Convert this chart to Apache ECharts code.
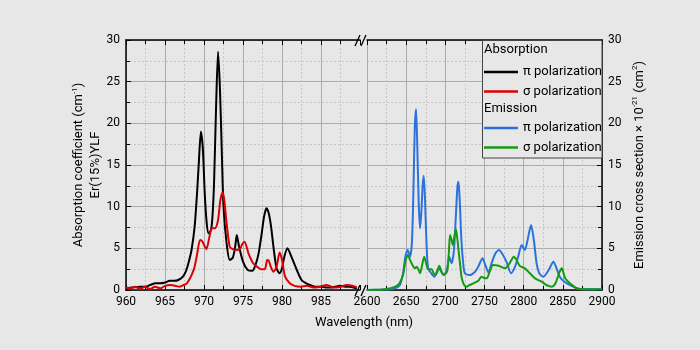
<!DOCTYPE html>
<html>
<head>
<meta charset="utf-8">
<script src="https://cdn.jsdelivr.net/npm/echarts@6/dist/echarts.min.js"></script>
<style>
  html, body { margin: 0; padding: 0; background: #e7e7e7; }
  #chart { width: 700px; height: 350px; }
</style>
</head>
<body>
<div id="chart"></div>
<script>
// ---------- DATA ----------
const absPiWl = [960.0, 960.8, 961.8, 962.5, 963.1, 963.8, 964.4, 965.0, 965.6, 966.2, 966.7, 967.3, 967.7, 968.0, 968.4, 968.8, 969.1, 969.35, 969.6, 969.85, 970.1, 970.35, 970.6, 970.9, 971.1, 971.3, 971.55, 971.8, 972.05, 972.3, 972.5, 972.9, 973.3, 973.7, 974.0, 974.2, 974.5, 975.0, 975.6, 976.2, 976.6, 977.0, 977.4, 977.7, 978.0, 978.3, 978.6, 978.9, 979.3, 979.7, 980.0, 980.3, 980.7, 981.2, 981.9, 982.5, 983.1, 983.6, 984.3, 984.9, 985.6, 986.2, 986.8, 987.4, 988.1, 988.7, 989.6];
const absPiVal = [0.2, 0.3, 0.4, 0.4, 0.6, 0.8, 0.8, 0.9, 1.1, 1.1, 1.2, 1.6, 2.3, 3.2, 4.8, 7.6, 11.5, 15.5, 19.0, 17.0, 11.5, 8.0, 6.8, 7.2, 9.0, 13.2, 22.0, 28.6, 24.0, 16.0, 10.0, 5.6, 3.6, 3.9, 5.2, 6.6, 5.2, 3.4, 2.4, 2.3, 3.0, 4.4, 6.8, 8.8, 9.8, 9.2, 7.6, 5.2, 2.6, 2.0, 2.6, 4.0, 5.0, 4.0, 2.4, 1.2, 0.8, 0.6, 0.4, 0.4, 0.3, 0.3, 0.4, 0.5, 0.4, 0.4, 0.2];

const absSigmaWl = [960.0, 960.5, 961.2, 961.8, 962.4, 963.1, 963.7, 964.4, 965.0, 965.7, 966.3, 966.9, 967.4, 967.8, 968.2, 968.5, 968.8, 969.1, 969.5, 969.8, 970.3, 970.7, 971.0, 971.4, 971.8, 972.1, 972.4, 972.6, 972.9, 973.3, 973.7, 974.1, 974.6, 974.9, 975.2, 975.7, 976.3, 976.8, 977.3, 977.8, 978.1, 978.3, 978.6, 978.9, 979.3, 979.7, 980.0, 980.4, 981.0, 981.6, 982.4, 983.2, 984.0, 984.9, 985.7, 986.6, 987.5, 988.3, 989.0, 989.6];
const absSigmaVal = [0.3, 0.2, 0.4, 0.1, 0.4, 0.1, 0.4, 0.2, 0.5, 0.6, 0.5, 0.4, 0.6, 0.8, 1.4, 2.0, 2.8, 4.2, 6.0, 5.8, 4.9, 6.4, 7.4, 7.4, 8.4, 10.8, 11.7, 10.8, 8.0, 5.2, 4.9, 4.8, 4.9, 5.5, 5.8, 4.4, 3.2, 2.8, 2.5, 2.5, 3.6, 3.5, 2.7, 2.2, 2.8, 4.5, 3.6, 1.6, 0.8, 0.5, 0.4, 0.5, 0.3, 0.4, 0.6, 0.3, 0.4, 0.6, 0.5, 0.3];

const emPiWl = [2600, 2620, 2630, 2638, 2642, 2646, 2649, 2652, 2655, 2657.5, 2659.5, 2661, 2662.6, 2664, 2666, 2667.7, 2669.5, 2671, 2672.4, 2674, 2676, 2678, 2682, 2686, 2689, 2692, 2695, 2698, 2702, 2705, 2708, 2711, 2713.5, 2715.5, 2716.8, 2718.5, 2720.5, 2723, 2725, 2731, 2738, 2742, 2747.5, 2751, 2755, 2759, 2764, 2768.5, 2773, 2778, 2784, 2789, 2793, 2797.5, 2801.5, 2805, 2809.5, 2813, 2816.5, 2820, 2825, 2832, 2838, 2842, 2846, 2852, 2861, 2870, 2880, 2900];
const emPiVal = [0.0, 0.05, 0.1, 0.3, 0.6, 2.0, 4.0, 4.8, 4.0, 6.0, 13.0, 19.5, 21.7, 18.0, 10.5, 7.4, 9.5, 12.5, 13.7, 11.0, 5.5, 2.6, 2.0, 1.6, 2.0, 2.6, 2.2, 1.8, 2.4, 4.0, 3.2, 4.8, 9.0, 12.5, 13.0, 10.5, 6.0, 3.0, 2.0, 1.8, 2.2, 2.8, 3.8, 3.0, 2.1, 3.2, 4.4, 4.8, 4.3, 3.4, 2.0, 2.8, 4.0, 5.4, 4.8, 6.0, 7.8, 6.0, 3.2, 2.0, 1.6, 2.4, 3.4, 2.6, 1.6, 1.0, 0.5, 0.15, 0.1, 0.1];

const emSigmaWl = [2600, 2620, 2630, 2638, 2642, 2646, 2649, 2652, 2655, 2658, 2661, 2663.5, 2665.5, 2667.7, 2670, 2673, 2675.5, 2678, 2682.5, 2685, 2687, 2690, 2692.3, 2695, 2697.5, 2700, 2702.5, 2704.5, 2706, 2708, 2709.5, 2711.5, 2713.6, 2715.5, 2717.5, 2719.5, 2721, 2724, 2727, 2731, 2736, 2742, 2746, 2750.5, 2753, 2757, 2761, 2768, 2776, 2782, 2787.5, 2791, 2795, 2801.5, 2808, 2814.5, 2823, 2829, 2836, 2840, 2843, 2846, 2848.6, 2851, 2853, 2859, 2868, 2880, 2900];
const emSigmaVal = [0.0, 0.05, 0.2, 0.5, 0.9, 1.8, 3.4, 4.2, 3.6, 3.0, 2.6, 2.8, 2.5, 2.0, 2.8, 4.0, 3.2, 2.5, 2.5, 2.0, 1.8, 2.4, 2.9, 2.2, 1.8, 1.9, 2.3, 4.5, 6.6, 6.0, 5.4, 6.4, 7.3, 6.0, 4.2, 2.5, 1.4, 0.6, 0.4, 0.6, 0.8, 1.1, 1.6, 1.4, 1.4, 2.3, 3.0, 2.9, 2.6, 3.2, 4.0, 3.6, 2.9, 2.6, 2.0, 1.4, 1.0, 0.6, 0.4, 0.7, 1.4, 2.2, 2.6, 2.0, 1.4, 0.8, 0.2, 0.1, 0.1];

const seriesNames = ['Absorption π polarization', 'Absorption σ polarization', 'Emission π polarization', 'Emission σ polarization'];
const legendHeaders = ['Absorption', 'Emission'];
const xTitle = 'Wavelength (nm)';

// ---------- CHART ----------
const FONT = 'Roboto, "DejaVu Sans", sans-serif';
const BG = '#e7e7e7';
const zip = (a, b) => a.map((v, i) => [v, b[i]]);
const chart = echarts.init(document.getElementById('chart'), null, { renderer: 'canvas' });

const splitLine = { show: true, lineStyle: { color: '#acacac', width: 1 } };
const minorSplit = { show: true, lineStyle: { color: '#c6c6c6', width: 1, type: [2, 2] } };
const axisLine = { show: true, lineStyle: { color: '#000', width: 1.5 } };
const axisTick = { show: true, inside: true, length: 5, lineStyle: { color: '#000', width: 1 } };
const minorTick = { show: true, splitNumber: 2, length: 4, lineStyle: { color: '#000', width: 1 } };
const labelStyle = { color: '#000', fontSize: 12, fontFamily: FONT };

function xAxisDef(gridIndex, position, min, max, interval, bottom, hideMax) {
  return {
    type: 'value', gridIndex, position, min, max, interval,
    axisLine, axisTick, minorTick,
    axisLabel: bottom ? Object.assign({ margin: 6, formatter: v => (hideMax && v >= max) ? '' : String(v) }, labelStyle) : { show: false },
    splitLine: bottom ? Object.assign({ showMaxLine: !hideMax }, splitLine) : { show: false },
    minorSplitLine: bottom ? minorSplit : { show: false }
  };
}

const richName = {
  a: { fontSize: 13, fontFamily: FONT, color: '#000', lineHeight: 17 },
  sup: { fontSize: 8, fontFamily: FONT, color: '#000', verticalAlign: 'top', lineHeight: 17, padding: [0, 0, 6, 0] }
};

const option = {
  backgroundColor: BG,
  animation: false,
  grid: [
    { left: 126, top: 40, width: 234, height: 250 },
    { left: 367, top: 40, width: 235, height: 250 }
  ],
  xAxis: [
    xAxisDef(0, 'bottom', 960, 990, 5, true, true),
    xAxisDef(1, 'bottom', 2600, 2900, 50, true, false),
    xAxisDef(0, 'top', 960, 990, 5, false, true),
    xAxisDef(1, 'top', 2600, 2900, 50, false, false)
  ],
  yAxis: [
    {
      type: 'value', gridIndex: 0, position: 'left', min: 0, max: 30, interval: 5,
      axisLine, axisTick, minorTick, splitLine, minorSplitLine: minorSplit,
      axisLabel: Object.assign({ margin: 6 }, labelStyle),
      name: '{a|Absorption coefficient (cm}{sup|-1}{a|)}\n{a|Er(15%)YLF}',
      nameLocation: 'middle', nameRotate: 90, nameGap: 16,
      nameTextStyle: { rich: richName, align: 'center' }
    },
    {
      type: 'value', gridIndex: 1, position: 'right', min: 0, max: 30, interval: 5,
      axisLine, axisTick, minorTick, splitLine, minorSplitLine: minorSplit,
      axisLabel: Object.assign({ margin: 6 }, labelStyle),
      name: '{a|Emission cross section × 10}{sup|-21}{a| (cm}{sup|2}{a|)}',
      nameLocation: 'middle', nameRotate: 90, nameGap: 29,
      nameTextStyle: { rich: richName }
    }
  ],
  legend: [
    {
      data: [seriesNames[0], seriesNames[1]],
      left: 484, top: 62.5, orient: 'vertical', padding: 0, itemGap: 0.5,
      itemWidth: 34, itemHeight: 2.5, icon: 'rect', z: 10,
      formatter: n => n.replace(/^\S+ /, ''),
      textStyle: { fontSize: 13, fontFamily: FONT, color: '#000', lineHeight: 19 }
    },
    {
      data: [seriesNames[2], seriesNames[3]],
      left: 484, top: 118.5, orient: 'vertical', padding: 0, itemGap: 0.5,
      itemWidth: 34, itemHeight: 2.5, icon: 'rect', z: 10,
      formatter: n => n.replace(/^\S+ /, ''),
      textStyle: { fontSize: 13, fontFamily: FONT, color: '#000', lineHeight: 19 }
    }
  ],
  graphic: [
    { type: 'rect', z: 3, shape: { x: 482.5, y: 40.5, width: 119.5, height: 117.5 },
      style: { fill: BG, stroke: '#444', lineWidth: 1 } },
    { type: 'text', z: 11, x: 484, y: 50, style: { text: legendHeaders[0], fontSize: 13, fontFamily: FONT, fill: '#000', textVerticalAlign: 'middle' } },
    { type: 'text', z: 11, x: 484, y: 109, style: { text: legendHeaders[1], fontSize: 13, fontFamily: FONT, fill: '#000', textVerticalAlign: 'middle' } },
    { type: 'text', z: 11, x: 364, y: 323, style: { text: xTitle, fontSize: 13, fontFamily: FONT, fill: '#000', textAlign: 'center', textVerticalAlign: 'middle' } },
    { type: 'line', z: 11, shape: { x1: 355, y1: 296, x2: 360, y2: 285 }, style: { stroke: '#000', lineWidth: 1.3 } },
    { type: 'line', z: 11, shape: { x1: 361, y1: 296, x2: 366, y2: 285 }, style: { stroke: '#000', lineWidth: 1.3 } },
    { type: 'line', z: 11, shape: { x1: 355, y1: 46, x2: 360, y2: 35 }, style: { stroke: '#000', lineWidth: 1.3 } },
    { type: 'line', z: 11, shape: { x1: 361, y1: 46, x2: 366, y2: 35 }, style: { stroke: '#000', lineWidth: 1.3 } }
  ],
  series: [
    { name: seriesNames[0], type: 'line', xAxisIndex: 0, yAxisIndex: 0, data: zip(absPiWl, absPiVal),
      showSymbol: false, symbol: 'none', smooth: 0.25, color: '#000000', lineStyle: { width: 2, color: '#000000' }, z: 4 },
    { name: seriesNames[1], type: 'line', xAxisIndex: 0, yAxisIndex: 0, data: zip(absSigmaWl, absSigmaVal),
      showSymbol: false, symbol: 'none', smooth: 0.25, color: '#dd0000', lineStyle: { width: 2, color: '#dd0000' }, z: 5 },
    { name: seriesNames[2], type: 'line', xAxisIndex: 1, yAxisIndex: 1, data: zip(emPiWl, emPiVal),
      showSymbol: false, symbol: 'none', smooth: 0.25, color: '#2a72dc', lineStyle: { width: 2, color: '#2a72dc' }, z: 4 },
    { name: seriesNames[3], type: 'line', xAxisIndex: 1, yAxisIndex: 1, data: zip(emSigmaWl, emSigmaVal),
      showSymbol: false, symbol: 'none', smooth: 0.25, color: '#159a15', lineStyle: { width: 2, color: '#159a15' }, z: 5 }
  ]
};
chart.setOption(option);
</script>
</body>
</html>
